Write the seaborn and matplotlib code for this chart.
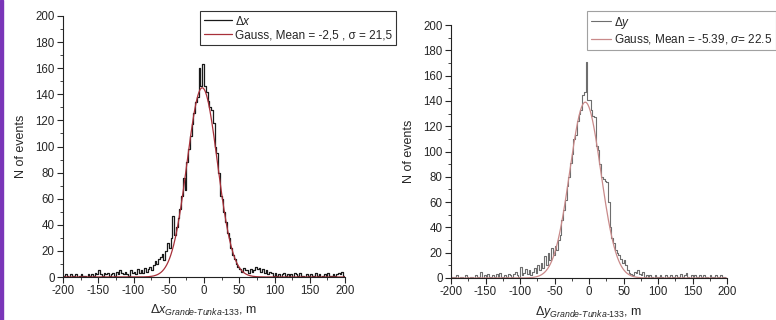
import numpy as np
import pandas as pd
import matplotlib
matplotlib.use('Agg')
import matplotlib.pyplot as plt
import seaborn as sns
from matplotlib.ticker import MultipleLocator
from matplotlib.patches import Rectangle

# ------------------------------------------------------------
# data (bin width 2.5 m, from -200 to 200)
# ------------------------------------------------------------
bin_lo, bin_hi, bin_w = -200, 200, 2.5

counts_x = [
    1, 2, 1, 0,   2, 1, 1, 2,   0, 1, 2, 1,   1, 0, 2, 1,   2, 1, 3, 2,
    5, 2, 1, 3,   2, 3, 1, 2,   3, 1, 4, 2,   5, 3, 2, 4,   2, 1, 5, 3,
    4, 2, 6, 3,   5, 3, 7, 4,   6, 8, 5, 9,   12, 10, 14, 15,   18, 13, 20, 26,
    22, 30, 47, 32,   38, 45, 52, 62,   76, 67, 88, 98,   108, 117, 126, 134,
    138, 160, 146, 163,   146, 142, 135, 130,   128, 118, 100, 95,   80, 62, 60, 50,
    42, 34, 30, 22,   17, 14, 10, 8,   6, 4, 7, 5,   5, 3, 6, 4,   5, 8, 6, 7,
    4, 6, 3, 5,   2, 4, 3, 1,   3, 1, 2, 0,   2, 3, 1, 2,   1, 2, 0, 3,
    2, 1, 3, 1,   1, 0, 2, 1,   2, 1, 1, 3,   1, 2, 0, 1,   2, 1, 3, 1,
    1, 2, 1, 2,   3, 2, 4, 1,
]

counts_y = [
    1, 0, 1, 2,   0, 1, 1, 0,   2, 1, 0, 1,   1, 0, 2, 1,   1, 5, 0, 2,
    1, 3, 1, 0,   2, 1, 3, 1,   4, 1, 0, 2,   1, 3, 2, 1,   3, 5, 2, 1,
    9, 2, 4, 7,   3, 6, 2, 5,   8, 4, 10, 6,   12, 8, 17, 10,   20, 14, 24, 18,
    25, 22, 30, 34,   46, 54, 62, 73,   80, 91, 98, 110,   113, 124, 130, 133,
    145, 147, 171, 141,   141, 133, 128, 127,   104, 101, 90, 80,   78, 77, 76, 60,
    40, 32, 28, 22,   20, 18, 15, 12,   14, 10, 6, 4,   3, 2, 5, 4,   6, 3, 2, 5,
    1, 2, 1, 2,   1, 0, 2, 1,   1, 2, 1, 0,   2, 1, 1, 2,   1, 0, 2, 1,
    1, 3, 1, 2,   4, 1, 0, 2,   1, 2, 1, 0,   2, 1, 2, 1,   1, 0, 2, 1,
    1, 2, 0, 1,   2, 1, 1, 0,
]

mean_x, sigma_x, amp_x = -2.5, 21.5, 145
mean_y, sigma_y, amp_y = -5.39, 22.5, 139

label_x = r'$\mathit{\Delta x}$'
label_y = r'$\mathit{\Delta y}$'
gauss_label_x = 'Gauss, Mean = -2,5 , σ = 21,5'
gauss_label_y = r'Gauss, Mean = -5.39, $\mathit{\sigma}$= 22.5'
xlabel_x = r'$\mathit{\Delta x}_{\mathit{Grande\text{-}Tunka\text{-}133}}$, m'
xlabel_y = r'$\mathit{\Delta y}_{\mathit{Grande\text{-}Tunka\text{-}133}}$, m'

# ------------------------------------------------------------
sns.set_style('ticks')
plt.rcParams['font.family'] = ['Liberation Sans', 'DejaVu Sans']
plt.rcParams['mathtext.fontset'] = 'custom'
plt.rcParams['mathtext.rm'] = 'Liberation Sans'
plt.rcParams['mathtext.it'] = 'Liberation Sans:italic'
plt.rcParams['axes.unicode_minus'] = False

centers = np.arange(bin_lo + bin_w / 2, bin_hi, bin_w)
xs = np.linspace(bin_lo, bin_hi, 801)

fig = plt.figure(figsize=(7.76, 3.2), dpi=100)
ax1 = fig.add_axes([63 / 776, 1 - 277 / 320, 282 / 776, 261 / 320])
ax2 = fig.add_axes([451 / 776, 1 - 278 / 320, 276 / 776, 253 / 320])

panels = [
    (ax1, counts_x, mean_x, sigma_x, amp_x, '#1a1a1a', '#a8303a', 0.9,
     label_x, gauss_label_x, xlabel_x, 200 / 776, 'black', 2.4),
    (ax2, counts_y, mean_y, sigma_y, amp_y, '#6e6e6e', '#c98a8a', 0.8,
     label_y, gauss_label_y, xlabel_y, 587 / 776, '#8a8a8a', 1.7),
]

for (ax, counts, mu, sig, amp, hcol, gcol, lw, hlab, glab, xlab, lx, fcol,
     hlen) in panels:
    df = pd.DataFrame({'pos': centers, 'n': counts})
    sns.histplot(data=df, x='pos', weights='n', binwidth=bin_w,
                 binrange=(bin_lo, bin_hi), element='step', fill=False,
                 color=hcol, linewidth=lw, ax=ax, label=hlab)
    gauss = amp * np.exp(-(xs - mu) ** 2 / (2 * sig ** 2))
    sns.lineplot(x=xs, y=gauss, color=gcol, linewidth=0.9, ax=ax, label=glab)

    ax.set_xlim(-200, 200)
    ax.set_ylim(0, 200)
    ax.xaxis.set_major_locator(MultipleLocator(50))
    ax.xaxis.set_minor_locator(MultipleLocator(25))
    ax.yaxis.set_major_locator(MultipleLocator(20))
    ax.yaxis.set_minor_locator(MultipleLocator(10))
    ax.tick_params(which='major', length=4, width=0.8, labelsize=8.3, pad=2)
    ax.tick_params(which='minor', length=2, width=0.6)
    ax.set_ylabel('N of events', fontsize=9, labelpad=6)
    ax.set_xlabel(xlab, fontsize=9, labelpad=4)
    sns.despine(ax=ax)
    for s in ['left', 'bottom']:
        ax.spines[s].set_linewidth(0.8)
        ax.spines[s].set_color('#222222')

    leg = ax.legend(loc='upper left', bbox_to_anchor=(lx, 1 - 11 / 320),
                    bbox_transform=fig.transFigure, fontsize=8.5,
                    frameon=True, fancybox=False, handlelength=hlen,
                    handletextpad=0.3, borderpad=0.3, labelspacing=0.15,
                    borderaxespad=0)
    leg.get_frame().set_edgecolor(fcol)
    leg.get_frame().set_linewidth(0.8)

# purple strip on the left edge
fig.patches.append(Rectangle((0, 0), 3 / 776, 1, transform=fig.transFigure,
                             color='#7a35b8', zorder=10))

plt.savefig('out.png', dpi=100)
